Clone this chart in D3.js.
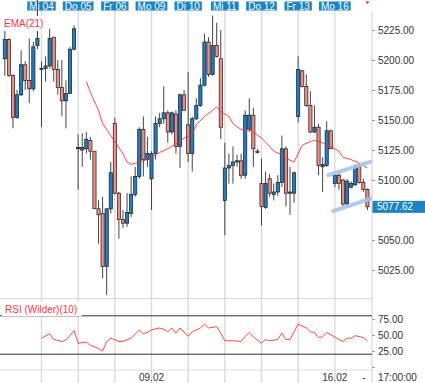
<!DOCTYPE html>
<html>
<head>
<meta charset="utf-8">
<script src="https://cdn.jsdelivr.net/npm/d3@7"></script>
<style>
  body { margin: 0; background: #fff; }
  svg { display: block; font-family: Arial, "Liberation Sans", sans-serif; }
</style>
</head>
<body>
<svg id="chart" width="425" height="383"></svg>
<script>
// Tage (Gitterlinien) und Beschriftungen
const dayBars = [10, 19, 28, 37, 46, 55, 64, 73, 82];
const dayLabels = ["Mi 04", "Do 05", "Fr 06", "Mo 09", "Di 10", "Mi 11", "Do 12", "Fr 13", "Mo 16"];
const dateBars = [37, 82];
const dateLabels = ["09.02", "16.02"];

// Kerzen, Balken 1..90
const opens = [5201,5217,5187,5152,5171,5196,5183,5176,5212,5192,5193,5195,5219,5192,5177,5166,5172,5209,
  5126,5125,5126,5133,5124,5076,5072,5028,5076,5147,5089,5067,5064,5072,5088,5103,5142,5117,5101,
  5122,5147,5151,5156,5140,5155,5128,5171,5146,5122,5151,5162,5179,5215,5188,5212,5201,5083,
  5110,5112,5115,5116,5104,5142,5154,5124,5097,5077,5101,5088,5090,5098,5126,5089,5089,5153,
  5191,5178,5162,5140,5144,5111,5112,5141,5097,5104,5100,5080,5094,5096,5111,5098,5092];
const highs = [5225,5218,5188,5175,5208,5199,5218,5215,5250,5199,5203,5226,5219,5200,5200,5183,5211,5229,
  5138,5139,5140,5136,5124,5083,5086,5076,5115,5152,5090,5075,5089,5103,5111,5144,5153,5136,5124,
  5153,5156,5178,5158,5157,5158,5172,5175,5190,5153,5168,5185,5222,5219,5237,5231,5225,5131,
  5122,5128,5121,5122,5158,5168,5160,5126,5118,5107,5105,5097,5104,5137,5128,5111,5107,5203,
  5192,5188,5174,5162,5147,5119,5149,5142,5104,5107,5101,5101,5099,5113,5114,5101,5093];
const lows = [5187,5186,5143,5151,5170,5175,5164,5174,5209,5144,5182,5193,5182,5171,5153,5143,5172,5208,
  5092,5111,5122,5117,5076,5047,5018,5004,5072,5088,5051,5060,5061,5069,5086,5101,5103,5111,5075,
  5117,5144,5147,5131,5138,5122,5110,5158,5115,5107,5150,5161,5178,5186,5187,5202,5134,5054,
  5097,5097,5111,5101,5101,5140,5111,5122,5062,5076,5086,5083,5087,5094,5078,5071,5081,5148,
  5177,5161,5139,5139,5104,5090,5111,5126,5094,5092,5078,5078,5093,5095,5097,5090,5075];
const closes = [5217,5187,5152,5171,5196,5183,5176,5211,5218,5193,5195,5218,5192,5177,5166,5172,5209,5226,
  5127,5127,5134,5124,5076,5071,5028,5076,5106,5089,5067,5064,5073,5088,5103,5142,5117,5122,5122,
  5147,5151,5156,5140,5156,5128,5171,5158,5122,5151,5162,5179,5215,5188,5212,5203,5144,5110,
  5112,5115,5116,5104,5154,5154,5126,5123,5078,5097,5089,5090,5098,5126,5089,5090,5106,5192,
  5178,5162,5140,5144,5112,5113,5141,5126,5104,5097,5080,5099,5097,5111,5098,5092,5077.62];

// EMA(21)
const emaBars = [21,22,24,25,27,28,30,31,32,34,36,37,39,41,42,44,45,47,48,50,52,53,54,56,57,59,61,62,64,
  66,67,69,70,72,73,74,76,77,79,80,81,83,84,86,88,90];
const emaValues = [5182,5173,5158,5147,5137,5132,5122,5115,5113,5115,5117,5119,5123,5126,5128,5132,5135,
  5138,5146,5153,5158,5161,5157,5153,5147,5142,5142,5140,5135,5128,5124,5121,5118,5115,5122,5129,
  5132,5133,5131,5129,5128,5124,5119,5117,5114,5110];

// RSI (Wilder)(10)
const rsiBars = [10,12,13,15,16,18,19,21,22,24,25,26,27,29,30,32,34,35,36,37,39,40,41,42,43,44,46,47,49,
  50,51,53,54,55,57,59,60,61,62,64,65,66,68,69,70,71,73,75,76,77,78,79,80,82,83,84,85,86,87,89,90];
const rsiValues = [45,52,43,40,42,57,37,39,34,29,25,40,45,40,40,45,58,52,54,58,61,59,55,61,53,61,48,55,61,
  67,61,63,53,41,41,40,48,54,47,37,43,41,43,53,43,43,67,61,55,54,46,47,54,47,43,40,45,45,49,46,41];

// Trendkanal
const channelBars = [[80, 91.4], [81.2, 91.6]];
const channelPrices = [[5103.6, 5115.8], [5073.6, 5085.4]];

const priceTicks = [5025, 5050, 5075, 5100, 5125, 5150, 5175, 5200, 5225];
const rsiTicks = [0, 25, 50, 75];
const rsiLevels = [20, 80];
const lastPrice = 5077.62;

const W = 425, H = 383, axisX = 372;
const blue = "#1b84c6", red = "#ff3344";

const svg = d3.select("#chart");
const x = d3.scaleLinear().domain([0, 91]).range([0.76, 371.5]);
const y = d3.scaleLinear().domain([5025, 5225]).range([270, 30]);
const yRsi = d3.scaleLinear().domain([0, 100]).range([367, 303]);

svg.append("rect").attr("width", W).attr("height", H).attr("fill", "#fff");

// Gitter
svg.selectAll(".grid")
  .data(dayBars)
  .enter()
  .append("line")
  .attr("x1", d => x(d)).attr("x2", d => x(d))
  .attr("y1", 10).attr("y2", H)
  .attr("stroke", "#d9d9d9").attr("stroke-width", 1.3);

svg.append("line").attr("x1", 0).attr("x2", axisX).attr("y1", 298.5).attr("y2", 298.5)
  .attr("stroke", "#d9d9d9");
svg.append("line").attr("x1", 0).attr("x2", axisX).attr("y1", 370).attr("y2", 370)
  .attr("stroke", "#d9d9d9");
svg.append("line").attr("x1", axisX).attr("x2", axisX).attr("y1", 12).attr("y2", H)
  .attr("stroke", "#cfcfcf");

// Preisachse (5075 liegt unter dem Kursfeld)
const pAxis = svg.append("g")
  .attr("transform", `translate(${axisX},0)`)
  .call(d3.axisRight(y).tickValues(priceTicks)
    .tickFormat(d => Math.abs(y(d) - y(lastPrice)) < 8 ? "" : d3.format(".2f")(d)).tickSize(3));
pAxis.select(".domain").remove();
pAxis.selectAll("line").attr("stroke", "#999");
pAxis.selectAll("text").attr("fill", "#333").attr("font-size", 10).attr("font-family", "Arial, 'Liberation Sans'");

// RSI-Achse
const rAxis = svg.append("g")
  .attr("transform", `translate(${axisX},0)`)
  .call(d3.axisRight(yRsi).tickValues(rsiTicks).tickFormat(d => d === 0 ? "" : d3.format(".2f")(d)).tickSize(3));
rAxis.select(".domain").remove();
rAxis.selectAll("line").attr("stroke", "#999");
rAxis.selectAll("text").attr("fill", "#333").attr("font-size", 10).attr("font-family", "Arial, 'Liberation Sans'");

// Kerzen
const clip = svg.append("clipPath").attr("id", "main-clip");
clip.append("rect").attr("x", 0).attr("y", 0).attr("width", axisX).attr("height", 298);

const bars = closes.map((c, i) => ({ bar: i + 1, o: opens[i], h: highs[i], l: lows[i], c }));
const plot = svg.append("g").attr("clip-path", "url(#main-clip)");

plot.selectAll(".wick")
  .data(bars)
  .enter()
  .append("line")
  .attr("x1", d => x(d.bar)).attr("x2", d => x(d.bar))
  .attr("y1", d => y(d.h)).attr("y2", d => y(d.l))
  .attr("stroke", "#454545").attr("stroke-width", 1);

plot.selectAll(".body")
  .data(bars)
  .enter()
  .append("rect")
  .attr("x", d => x(d.bar) - 1.6)
  .attr("width", 3.2)
  .attr("y", d => y(Math.max(d.o, d.c)))
  .attr("height", d => Math.max(1, Math.abs(y(d.o) - y(d.c))))
  .attr("fill", d => d.c >= d.o ? "#1a7fc9" : "#f28b82")
  .attr("stroke", "#1a1a1a").attr("stroke-width", 0.7);

// EMA
plot.append("path")
  .datum(emaBars.map((b, i) => [b, emaValues[i]]))
  .attr("fill", "none").attr("stroke", "#ff2e2e").attr("stroke-width", 0.9)
  .attr("d", d3.line().x(d => x(d[0])).y(d => y(d[1])));

// Kanal
plot.selectAll(".channel")
  .data(channelBars)
  .enter()
  .append("line")
  .attr("x1", d => x(d[0])).attr("x2", d => x(d[1]))
  .attr("y1", (d, i) => y(channelPrices[i][0])).attr("y2", (d, i) => y(channelPrices[i][1]))
  .attr("stroke", "#a6c4e8").attr("stroke-width", 4).attr("stroke-opacity", 0.9);

// Tagesbeschriftungen oben
const dayG = svg.selectAll(".day")
  .data(dayBars)
  .enter()
  .append("g")
  .attr("transform", d => `translate(${x(d)},0)`);
dayG.append("rect").attr("fill", blue).attr("y", 1.5).attr("height", 9);
dayG.append("text")
  .attr("text-anchor", "middle").attr("y", 9.6)
  .attr("fill", "#fff").attr("font-size", 10)
  .text((d, i) => dayLabels[i]);
dayG.each(function() {
  const w = d3.select(this).select("text").node().getComputedTextLength() + 4;
  d3.select(this).select("rect").attr("x", -w / 2).attr("width", w);
});

// hohe Lunte ragt über die Beschriftung
svg.append("line")
  .attr("x1", x(9)).attr("x2", x(9)).attr("y1", 0).attr("y2", y(5218))
  .attr("stroke", "#454545").attr("stroke-width", 1);

svg.append("path").attr("d", "M365.5,1.5L369.5,1.5L367.5,4Z").attr("fill", "#e32222");

// Indikator-Beschriftungen
svg.append("rect").attr("x", 2).attr("y", 16).attr("width", 44).attr("height", 15).attr("fill", "#fff");
svg.append("text").attr("x", 4).attr("y", 27).attr("fill", red).attr("font-size", 10).text("EMA(21)");

// RSI-Panel
svg.selectAll(".level")
  .data(rsiLevels)
  .enter()
  .append("line")
  .attr("x1", 0).attr("x2", axisX)
  .attr("y1", d => yRsi(d)).attr("y2", d => yRsi(d))
  .attr("stroke", "#333").attr("stroke-width", 1);

svg.append("path")
  .datum(rsiBars.map((b, i) => [b, rsiValues[i]]))
  .attr("fill", "none").attr("stroke", "#ff2e2e").attr("stroke-width", 0.9)
  .attr("d", d3.line().x(d => x(d[0])).y(d => yRsi(d[1])));

svg.append("rect").attr("x", 2).attr("y", 302).attr("width", 80).attr("height", 14).attr("fill", "#fff");
svg.append("text").attr("x", 5).attr("y", 313).attr("fill", red).attr("font-size", 10).text("RSI (Wilder)(10)");

// letzter Kurs
svg.append("rect").attr("x", axisX + 0.5).attr("y", y(lastPrice) - 6).attr("width", W - axisX).attr("height", 12)
  .attr("fill", blue);
svg.append("text").attr("x", 377).attr("y", y(lastPrice) + 3.6).attr("fill", "#fff").attr("font-size", 10)
  .text(d3.format(".2f")(lastPrice));

// Datumsachse unten
svg.selectAll(".date")
  .data(dateBars)
  .enter()
  .append("text")
  .attr("x", d => x(d)).attr("y", 381)
  .attr("text-anchor", "middle").attr("fill", "#333").attr("font-size", 10)
  .text((d, i) => dateLabels[i]);
svg.append("text").attr("x", 364).attr("y", 381).attr("text-anchor", "middle")
  .attr("fill", "#333").attr("font-size", 10).text("-");
svg.append("text").attr("x", 378).attr("y", 381).attr("fill", "#333").attr("font-size", 10).text("17:00:00");
</script>
</body>
</html>
